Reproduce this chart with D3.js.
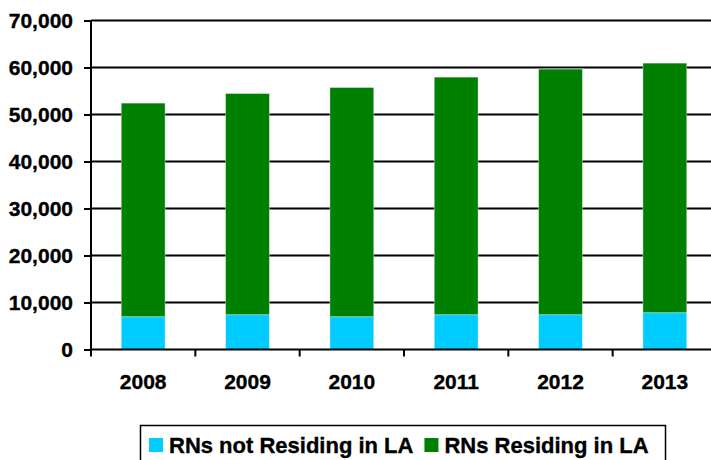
<!DOCTYPE html>
<html>
<head>
<meta charset="utf-8">
<script src="https://cdn.jsdelivr.net/npm/d3@7"></script>
<style>
  body { margin: 0; background: #fff; }
  svg { display: block; font-family: "Liberation Sans", Arial, sans-serif; font-weight: bold; }
  svg text { stroke: #000; stroke-width: 0.35px; }
</style>
</head>
<body>
<div id="chart"></div>
<script>
// values
const years = ['2008', '2009', '2010', '2011', '2012', '2013'];
const notResidingLA = [6980, 7400, 6980, 7400, 7400, 7830];
const residingLA = [45440, 47060, 48760, 50550, 52260, 53100];
const seriesNames = ['RNs not Residing in LA', 'RNs Residing in LA'];
const seriesColors = ['#00ccff', '#008000'];
const yTicks = [0, 10000, 20000, 30000, 40000, 50000, 60000, 70000];

const width = 711;
const height = 460;
const plotLeft = 91, plotRight = 717, plotTop = 20.5, plotBottom = 349.5;

const rows = years.map((y, i) => ({ year: y, notRes: notResidingLA[i], res: residingLA[i] }));
const stacked = d3.stack().keys(['notRes', 'res'])(rows);

const svg = d3.select('#chart').append('svg')
  .attr('width', width)
  .attr('height', height);

const x = d3.scaleBand()
  .domain(years)
  .range([plotLeft, plotRight])
  .paddingInner(0.58)
  .paddingOuter(0.29);

const y = d3.scaleLinear()
  .domain([0, 70000])
  .range([plotBottom, plotTop]);

// gridlines
svg.append('g')
  .selectAll('line')
  .data(yTicks.slice(1))
  .join('line')
    .attr('x1', plotLeft)
    .attr('x2', width)
    .attr('y1', d => y(d))
    .attr('y2', d => y(d))
    .attr('stroke', '#000')
    .attr('stroke-width', 2);

// bars
svg.append('g')
  .selectAll('g')
  .data(stacked)
  .join('g')
    .attr('fill', (d, i) => seriesColors[i])
  .selectAll('rect')
  .data(d => d)
  .join('rect')
    .attr('x', d => x(d.data.year))
    .attr('width', x.bandwidth())
    .attr('y', d => y(d[1]))
    .attr('height', d => y(d[0]) - y(d[1]))
    .attr('stroke', 'rgba(255,255,255,0.45)')
    .attr('stroke-width', 0.8);

// y axis
const yAxis = svg.append('g')
  .attr('transform', `translate(${plotLeft},0)`)
  .call(d3.axisLeft(y).tickValues(yTicks).tickFormat(d3.format(',')).tickSize(7).tickPadding(11));
yAxis.select('.domain').attr('stroke-width', 2).attr('d', `M0,${plotBottom}V${plotTop}`);
yAxis.selectAll('.tick line').attr('stroke-width', 2);
yAxis.selectAll('text')
  .attr('font-size', 21)
  .attr('font-family', '"Liberation Sans", Arial, sans-serif')
  .attr('font-weight', 'bold')
  .attr('fill', '#000');

// x axis line and tick marks at band boundaries
const bounds = d3.range(years.length + 1).map(i => x.range()[0] + i * x.step());
svg.append('line')
  .attr('x1', plotLeft).attr('x2', width)
  .attr('y1', plotBottom).attr('y2', plotBottom)
  .attr('stroke', '#000').attr('stroke-width', 2);
svg.append('g')
  .selectAll('line')
  .data(bounds)
  .join('line')
    .attr('x1', d => d).attr('x2', d => d)
    .attr('y1', plotBottom).attr('y2', plotBottom + 7)
    .attr('stroke', '#000').attr('stroke-width', 2);
svg.append('g')
  .selectAll('text')
  .data(years)
  .join('text')
    .attr('x', d => x(d) + x.bandwidth() / 2)
    .attr('y', 388.5)
    .attr('text-anchor', 'middle')
    .attr('font-size', 21)
    .attr('fill', '#000')
    .text(d => d);

// legend
const legend = svg.append('g');
legend.append('rect')
  .attr('x', 140.5).attr('y', 425.5)
  .attr('width', 525).attr('height', 60)
  .attr('fill', '#fff')
  .attr('stroke', '#000').attr('stroke-width', 1.5);
let lx = 149;
seriesNames.forEach((name, i) => {
  legend.append('rect')
    .attr('x', lx).attr('y', 438)
    .attr('width', 14).attr('height', 14)
    .attr('fill', seriesColors[i]);
  const t = legend.append('text')
    .attr('x', lx + 20).attr('y', 452.5)
    .attr('font-size', 22)
    .attr('fill', '#000')
    .text(name);
  lx += 20 + t.node().getComputedTextLength() + 11;
});
</script>
</body>
</html>
